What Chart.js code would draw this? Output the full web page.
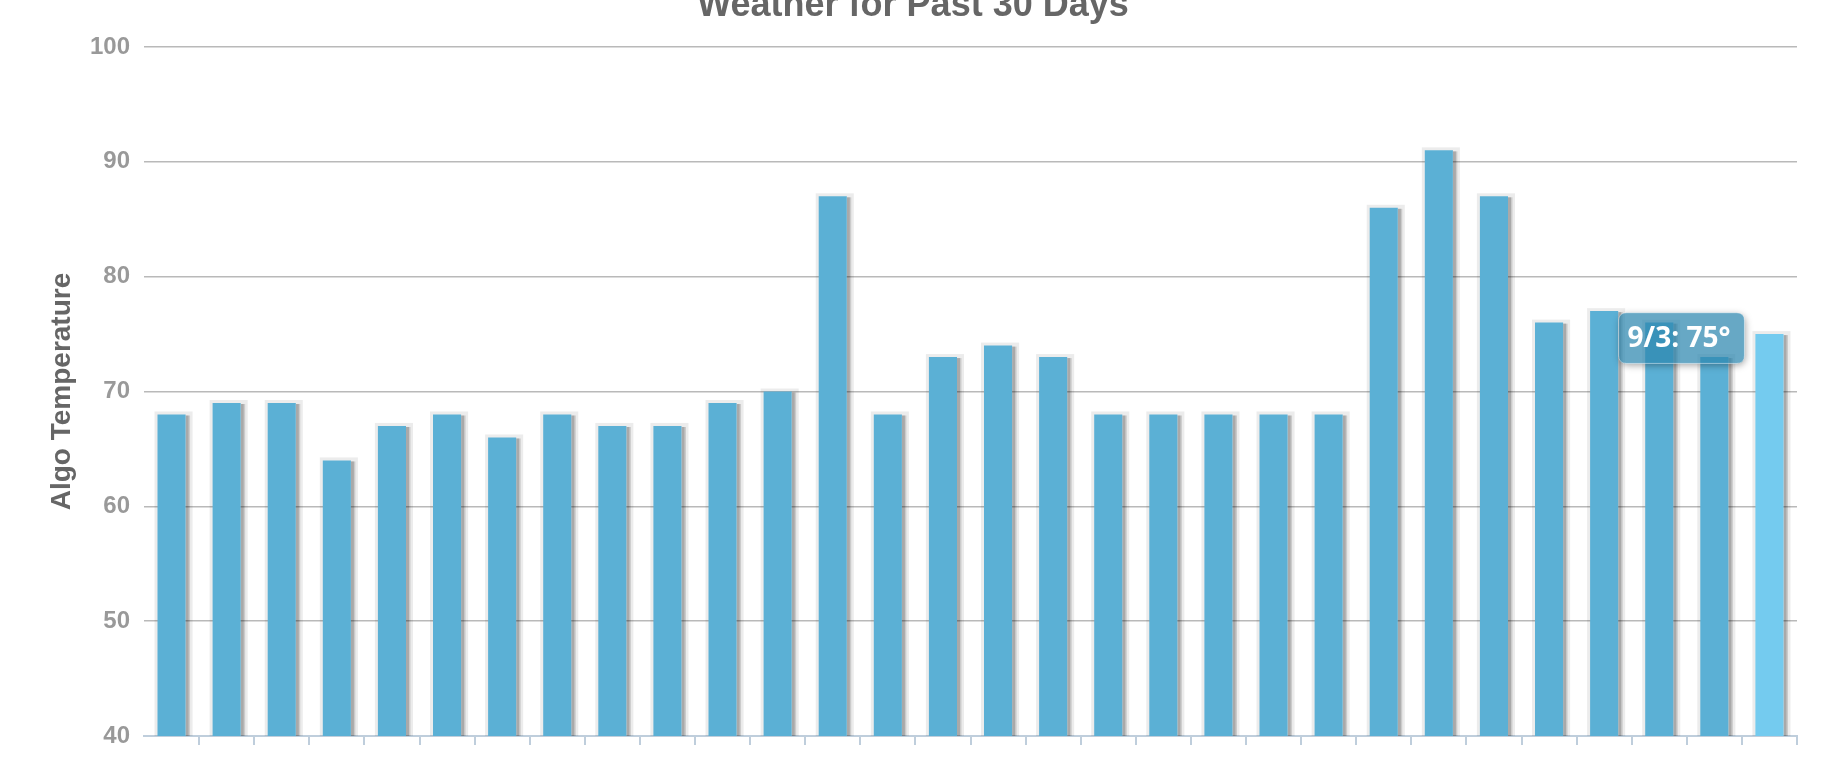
<!DOCTYPE html>
<html>
<head>
<meta charset="utf-8">
<script src="https://cdn.jsdelivr.net/npm/chart.js@4.4.1/dist/chart.umd.min.js"></script>
<style>
  html, body { margin: 0; padding: 0; background: #ffffff; }
  #wrap { position: relative; width: 1826px; height: 766px; }
</style>
</head>
<body>
<div id="wrap"><canvas id="c"></canvas></div>
<script>
// ---- data ----
const chartTitle = "Weather for Past 30 Days";
const yAxisTitle = "Algo Temperature";
const days = ["8/5","8/6","8/7","8/8","8/9","8/10","8/11","8/12","8/13","8/14",
              "8/15","8/16","8/17","8/18","8/19","8/20","8/21","8/22","8/23","8/24",
              "8/25","8/26","8/27","8/28","8/29","8/30","8/31","9/1","9/2","9/3"];
const temps = [68,69,69,64,67,68,66,68,67,67,
               69,70,87,68,73,74,73,68,68,68,
               68,68,86,91,87,76,77,76,73,75];
const yTickValues = [40,50,60,70,80,90,100];
const highlightIndex = temps.length - 1;

// ---- plugins ----
const barShadow = {
  id: 'barShadow',
  beforeDatasetsDraw(chart) {
    const ctx = chart.ctx;
    const meta = chart.getDatasetMeta(0);
    const bottom = chart.chartArea.bottom;
    ctx.save();
    meta.data.forEach(el => {
      const p = el.getProps(['x','y','base','width'], true);
      const base = Math.min(p.base, bottom);
      const l = p.x - p.width / 2, r = p.x + p.width / 2;
      ctx.fillStyle = 'rgba(0,0,0,0.075)';
      ctx.fillRect(l - 3, p.y - 3, p.width + 10, base - p.y + 3);
      ctx.fillStyle = 'rgba(0,0,0,0.14)';
      ctx.fillRect(r, p.y + 1, 4.5, base - p.y - 1);
      ctx.fillStyle = 'rgba(0,0,0,0.17)';
      ctx.fillRect(r, p.y + 1, 3, base - p.y - 1);
    });
    ctx.restore();
  }
};

const titleText = {
  id: 'titleText',
  afterDraw(chart) {
    const ctx = chart.ctx;
    ctx.save();
    ctx.font = 'bold 36px "Liberation Sans", Arial, sans-serif';
    ctx.fillStyle = '#666666';
    ctx.textAlign = 'center';
    ctx.textBaseline = 'alphabetic';
    ctx.fillText(chartTitle, chart.width / 2, 16);
    ctx.restore();
  }
};

const tooltipShadow = {
  id: 'tooltipShadow',
  beforeTooltipDraw(chart, args) {
    const tt = args.tooltip;
    if (!tt || !tt.opacity) return;
    const ctx = chart.ctx;
    ctx.save();
    ctx.shadowColor = 'rgba(0,0,0,0.35)';
    ctx.shadowBlur = 7;
    ctx.shadowOffsetX = 1;
    ctx.shadowOffsetY = 2;
    ctx.fillStyle = 'rgba(255,255,255,1)';
    const x = tt.x, y = tt.y, w = tt.width, h = tt.height, r = 8;
    ctx.beginPath();
    ctx.rect(0, 0, chart.width, chart.height);
    ctx.roundRect(x, y, w, h, r);
    ctx.clip('evenodd');
    ctx.beginPath();
    ctx.roundRect(x, y, w, h, r);
    ctx.fill();
    ctx.restore();
  }
};

Chart.Tooltip.positioners.barTop = function(elements) {
  if (!elements.length) return false;
  const el = elements[0].element;
  return { x: el.x, y: el.y + 4 };
};

const ctx = document.getElementById('c').getContext('2d');
const chart = new Chart(ctx, {
  type: 'bar',
  data: {
    labels: days,
    datasets: [{
      data: temps,
      backgroundColor: '#5bb0d5',
      hoverBackgroundColor: '#74cbef',
      borderWidth: 0,
      categoryPercentage: 1.0,
      barPercentage: 0.51
    }]
  },
  plugins: [barShadow, titleText, tooltipShadow],
  options: {
    responsive: true,
    maintainAspectRatio: false,
    devicePixelRatio: 1,
    animation: false,
    events: [],
    layout: { padding: { top: 47, right: 29, bottom: 21, left: 0 } },
    plugins: {
      legend: { display: false },
      title: { display: false },
      tooltip: {
        enabled: true,
        position: 'barTop',
        xAlign: 'right',
        yAlign: 'center',
        caretSize: 0,
        caretPadding: 25,
        cornerRadius: 8,
        padding: { top: 9, bottom: 8, left: 9, right: 14 },
        backgroundColor: 'rgba(45,135,175,0.72)',
        borderColor: 'rgba(255,255,255,0.35)',
        borderWidth: 1,
        displayColors: false,
        bodyColor: '#ffffff',
        bodyFont: { family: '"Open Sans", "Noto Sans", sans-serif', size: 28, weight: 'bold' },
        callbacks: {
          title: () => '',
          label: (c) => c.label + ': ' + c.parsed.y + '°'
        }
      }
    },
    scales: {
      x: {
        offset: true,
        grid: {
          display: true,
          drawOnChartArea: false,
          drawTicks: true,
          tickLength: 9,
          offset: true,
          lineWidth: 2,
          color: (c) => c.index === 0 ? 'rgba(0,0,0,0)' : '#bfcedc',
          tickColor: (c) => c.index === 0 ? 'rgba(0,0,0,0)' : '#bfcedc'
        },
        border: { display: true, color: '#bfcedc', width: 2 },
        ticks: { display: false }
      },
      y: {
        min: yTickValues[0],
        max: yTickValues[yTickValues.length - 1],
        afterFit: (s) => { s.width = 144; },
        grid: {
          drawTicks: false,
          lineWidth: 1.5,
          color: (c) => (c.tick && c.tick.value === yTickValues[0]) ? 'rgba(0,0,0,0)' : '#b9b9b9'
        },
        border: { display: false },
        ticks: {
          stepSize: yTickValues[1] - yTickValues[0],
          padding: 14,
          color: '#999999',
          font: { family: '"Liberation Sans", Arial, sans-serif', size: 24, weight: 'bold' }
        },
        title: {
          display: true,
          text: yAxisTitle,
          color: '#666666',
          padding: { top: 45, bottom: 0 },
          font: { family: '"Liberation Sans", Arial, sans-serif', size: 28, weight: 'bold' }
        }
      }
    }
  }
});

const active = [{ datasetIndex: 0, index: highlightIndex }];
chart.setActiveElements(active);
chart.tooltip.setActiveElements(active, { x: 0, y: 0 });
chart.update();
</script>
</body>
</html>
